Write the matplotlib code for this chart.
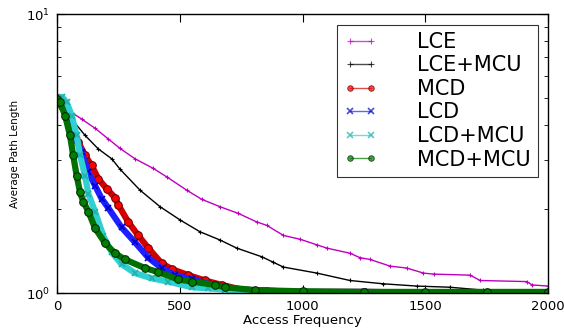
import matplotlib
matplotlib.use("Agg")
import matplotlib.pyplot as plt
from matplotlib.ticker import LogLocator, LogFormatterSciNotation, NullFormatter

# ---- data ----
lce_x = [0, 46, 100, 155, 209, 257, 318, 392, 450, 528, 589, 664, 739, 813, 854, 922, 990,
         1058, 1099, 1193, 1234, 1275, 1356, 1424, 1492, 1533, 1682, 1723, 1913, 1934, 2000]
lce_y = [5.0, 4.52, 4.21, 3.90, 3.57, 3.30, 3.03, 2.80, 2.60, 2.34, 2.17, 2.04, 1.93, 1.80, 1.75, 1.61, 1.56,
         1.49, 1.45, 1.39, 1.34, 1.32, 1.25, 1.23, 1.18, 1.17, 1.16, 1.11, 1.10, 1.07, 1.06]

lcemcu_x = [0, 20, 60, 114, 168, 223, 257, 338, 420, 501, 582, 664, 732, 834, 881,
            922, 1058, 1193, 1329, 1465, 1600, 1736, 1870, 2000]
lcemcu_y = [5.0, 4.85, 4.21, 3.68, 3.29, 3.03, 2.78, 2.34, 2.04, 1.83, 1.66, 1.55, 1.45, 1.35, 1.29,
            1.24, 1.18, 1.11, 1.08, 1.06, 1.05, 1.025, 1.02, 1.017]

mcd_x = [0, 20, 50, 87, 114, 141, 168, 202, 236, 250, 290, 331, 372, 426, 467, 535, 603, 671,
         750, 850, 1000, 1250, 1500, 1750, 2000]
mcd_y = [5.0, 4.7, 4.1, 3.48, 3.12, 2.87, 2.57, 2.37, 2.20, 2.07, 1.80, 1.61, 1.45, 1.28, 1.22, 1.16, 1.11, 1.07,
         1.03, 1.02, 1.01, 1.01, 1.005, 1.005, 1.005]

lcd_x = [0, 20, 50, 100, 128, 155, 182, 209, 263, 318, 372, 426, 481, 549, 616, 684,
         750, 850, 1000, 1250, 1500, 1750, 2000]
lcd_y = [5.0, 4.8, 4.1, 3.20, 2.71, 2.43, 2.18, 2.02, 1.72, 1.52, 1.34, 1.23, 1.16, 1.12, 1.08, 1.05,
         1.03, 1.02, 1.01, 1.01, 1.005, 1.005, 1.005]

lcdmcu_x = [0, 20, 39, 60, 80, 94, 114, 128, 155, 189, 223, 263, 318, 386, 453, 549, 616, 684,
            800, 1000, 1250, 1500, 1750, 2000]
lcdmcu_y = [4.9, 5.05, 4.84, 4.33, 3.68, 3.12, 2.64, 2.27, 1.96, 1.60, 1.40, 1.27, 1.18, 1.13, 1.10, 1.05, 1.04, 1.03,
            1.015, 1.01, 1.005, 1.005, 1.005, 1.005]

mcdmcu_x = [0, 12, 33, 53, 66, 80, 94, 107, 128, 155, 196, 236, 277, 358, 412, 494, 549, 644,
            684, 806, 1000, 1250, 1500, 1750, 2000]
mcdmcu_y = [4.95, 4.84, 4.33, 3.68, 3.12, 2.64, 2.30, 2.13, 1.96, 1.71, 1.51, 1.39, 1.32, 1.23, 1.19, 1.12, 1.10, 1.07,
            1.05, 1.025, 1.015, 1.01, 1.01, 1.01, 1.01]

labels = ["LCE", "LCE+MCU", "MCD", "LCD", "LCD+MCU", "MCD+MCU"]
x_ticks = [0, 500, 1000, 1500, 2000]

plt.rcParams['font.family'] = ['DejaVu Sans']
plt.rcParams['mathtext.fontset'] = 'dejavusans'

fig = plt.figure(figsize=(5.64, 3.29), dpi=100, facecolor='white')
ax = fig.add_axes([0.101, 0.109, 0.871, 0.848])

# LCE (magenta)
ax.plot(lce_x, lce_y, color='m', lw=1.0, marker='+', ms=3, mew=0.8, label=labels[0])
# LCE+MCU (black)
ax.plot(lcemcu_x, lcemcu_y, color='k', lw=1.0, marker='+', ms=3, mew=0.8, label=labels[1])
# MCD (red)
ax.plot(mcd_x, mcd_y, color='#d00000', lw=4.5, marker='o', ms=5.5, mfc='r', mec='#600000', mew=0.7,
        label=labels[2])
# LCD (blue)
ax.plot(lcd_x, lcd_y, color='#2020ff', lw=4.5, marker='x', ms=5, mew=1.2, mec='#0000cc',
        label=labels[3])
# LCD+MCU (cyan)
ax.plot(lcdmcu_x, lcdmcu_y, color='#30d0d0', lw=4.5, marker='x', ms=5, mew=1.2, mec='#20b0b0',
        label=labels[4])
# MCD+MCU (green)
ax.plot(mcdmcu_x, mcdmcu_y, color='#007000', lw=4.5, marker='o', ms=5.5, mfc='g', mec='#002000', mew=0.7,
        label=labels[5])

ax.set_yscale('log')
ax.set_ylim(1, 10)
ax.set_xlim(0, 2000)
ax.yaxis.set_major_locator(LogLocator(base=10))
ax.yaxis.set_major_formatter(LogFormatterSciNotation(base=10))
ax.yaxis.set_minor_locator(LogLocator(base=10, subs=range(2, 10)))
ax.yaxis.set_minor_formatter(NullFormatter())
ax.set_xticks(x_ticks)
ax.set_xticklabels([str(t) for t in x_ticks])

ax.tick_params(which='both', direction='in', top=True, right=True, labelsize=9.5, pad=5)
ax.tick_params(which='major', length=6, width=0.8)
ax.tick_params(which='minor', length=3, width=0.6)
for s in ax.spines.values():
    s.set_linewidth(1.0)

ax.set_xlabel("Access Frequency", fontsize=9.5, labelpad=1)
ax.set_ylabel("Average Path Length", fontsize=7.5)
ax.yaxis.set_label_coords(-0.075, 0.5)

leg = ax.legend(loc='upper right', fontsize=15, numpoints=2, handlelength=1.6,
                handletextpad=1.9, labelspacing=0.17, borderpad=0.35, borderaxespad=0.5,
                fancybox=False)
leg.get_frame().set_edgecolor('black')
leg.get_frame().set_linewidth(0.8)
for h in leg.get_lines():
    h.set_linewidth(1.0)
    h.set_markersize(4)
    h.set_alpha(0.7)

fig.savefig("out.png", dpi=100, facecolor='white')
